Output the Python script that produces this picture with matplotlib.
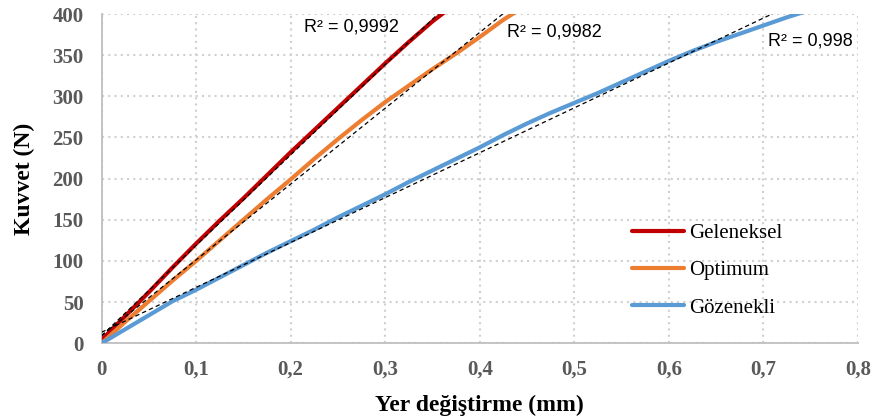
import numpy as np
import matplotlib
matplotlib.use("Agg")
import matplotlib.pyplot as plt

# values
geleneksel_x = [0, 0.025, 0.05, 0.075, 0.1, 0.125, 0.15, 0.175, 0.2, 0.225,
                0.25, 0.275, 0.3, 0.325, 0.35, 0.375]
geleneksel_y = [4, 33, 62, 92, 121, 149, 176, 204, 232, 259,
                286, 313, 340, 366, 391, 413]

optimum_x = [0, 0.025, 0.05, 0.075, 0.1, 0.125, 0.15, 0.175, 0.2, 0.225,
             0.25, 0.275, 0.3, 0.325, 0.35, 0.375, 0.4, 0.425, 0.45]
optimum_y = [0, 26, 51, 76, 100, 125, 150, 175, 199, 224,
             248, 271, 293, 313, 333, 352, 372, 393, 411]

gozenekli_x = [0, 0.025, 0.05, 0.075, 0.1, 0.125, 0.15, 0.175, 0.2, 0.225,
               0.25, 0.275, 0.3, 0.325, 0.35, 0.375, 0.4, 0.425, 0.45, 0.475,
               0.5, 0.525, 0.55, 0.575, 0.6, 0.625, 0.65, 0.675, 0.7, 0.725, 0.75]
gozenekli_y = [0, 17, 34, 51, 65, 80, 95, 110, 124, 138,
               153, 167, 181, 196, 210, 224, 238, 253, 267, 280,
               292, 304, 317, 330, 343, 355, 366, 376, 386, 396, 405]

labels = ["Geleneksel", "Optimum", "Gözenekli"]
colors = ["#C00000", "#ED7D31", "#5B9BD5"]
r2_texts = ["R² = 0,9992", "R² = 0,9982", "R² = 0,998"]
r2_pos = [(0.2143, 379), (0.429, 373), (0.705, 362)]

x_ticks = [0, 0.1, 0.2, 0.3, 0.4, 0.5, 0.6, 0.7, 0.8]
x_ticklabels = ["0", "0,1", "0,2", "0,3", "0,4", "0,5", "0,6", "0,7", "0,8"]
y_ticks = [0, 50, 100, 150, 200, 250, 300, 350, 400]

serif = "Liberation Serif"

fig = plt.figure(figsize=(8.75, 4.18), dpi=100)
ax = fig.add_axes([0.116, 0.1787, 0.8645, 0.7878])

series = [(geleneksel_x, geleneksel_y), (optimum_x, optimum_y), (gozenekli_x, gozenekli_y)]
for (xs, ys), lab, c in zip(series, labels, colors):
    ax.plot(xs, ys, color=c, lw=3.0, label=lab, solid_capstyle="round",
            solid_joinstyle="round", zorder=3)

# linear trendlines like excel
for xs, ys in series:
    k, b = np.polyfit(xs, ys, 1)
    xx = np.array([xs[0], xs[-1]])
    ax.plot(xx, k * xx + b, color="black", lw=0.9, ls=(0, (3.5, 2.5)), zorder=4)

for txt, (tx, ty) in zip(r2_texts, r2_pos):
    ax.text(tx, ty, txt, fontsize=13, family="Liberation Sans", va="baseline",
            ha="left", color="black", zorder=5)

ax.set_xlim(0, 0.8)
ax.set_ylim(0, 400)
ax.set_xticks(x_ticks)
ax.set_xticklabels(x_ticklabels)
ax.set_yticks(y_ticks)
for lbl in ax.get_xticklabels() + ax.get_yticklabels():
    lbl.set_family(serif)
    lbl.set_fontweight("bold")
    lbl.set_fontsize(15)
    lbl.set_color("#595959")
ax.tick_params(axis="both", length=0)
ax.tick_params(axis="x", pad=12)
ax.tick_params(axis="y", pad=13)

ax.grid(True, color="#d0d0d0", lw=1.5, ls=(0, (1, 2)))
ax.set_axisbelow(True)
for s in ["top", "right"]:
    ax.spines[s].set_visible(False)
for s in ["left", "bottom"]:
    ax.spines[s].set_color("#bfbfbf")
    ax.spines[s].set_linewidth(1.3)

ax.set_xlabel("Yer değiştirme (mm)", family=serif, fontweight="bold", fontsize=17, labelpad=11)
ax.set_ylabel("Kuvvet (N)", family=serif, fontweight="bold", fontsize=17, labelpad=12)

ax.legend(loc="center left", bbox_to_anchor=(0.701, 0.2205), frameon=False,
          prop={"family": serif, "size": 15}, handlelength=2.5, handletextpad=0.25,
          labelspacing=0.85, borderpad=0, borderaxespad=0)

fig.savefig("out.png", dpi=100)
